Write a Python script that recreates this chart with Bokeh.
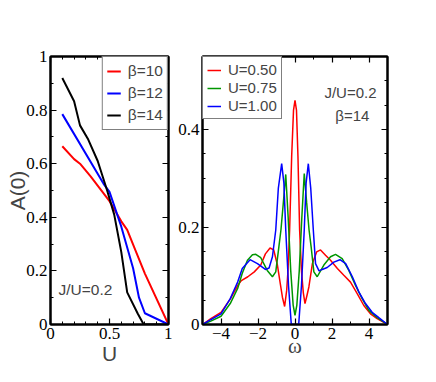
from bokeh.plotting import figure
from bokeh.layouts import row
from bokeh.models import FixedTicker, LinearAxis, Range1d, Label, CustomLabelingPolicy
from bokeh.embed import file_html
from bokeh.resources import INLINE

# ---- left panel: A(0) vs U ----
U_b10 = [0.1, 0.2, 0.25, 0.34, 0.5, 0.6, 0.65, 0.72, 0.8, 1.0]
A_b10 = [0.665, 0.617, 0.60, 0.553, 0.46, 0.385, 0.353, 0.277, 0.19, 0.0]
U_b12 = [0.1, 0.45, 0.5, 0.6, 0.7, 0.75, 0.8, 1.0]
A_b12 = [0.785, 0.525, 0.495, 0.365, 0.21, 0.10, 0.042, 0.0]
U_b14 = [0.1, 0.2, 0.25, 0.32, 0.4, 0.48, 0.54, 0.6, 0.65, 0.74, 0.79, 1.0]
A_b14 = [0.92, 0.833, 0.743, 0.69, 0.61, 0.5, 0.41, 0.27, 0.12, 0.04, 0.0, 0.0]

# ---- right panel: A(omega) ----
w_u050 = [-5.0, -4.55, -4.0, -3.5, -3.1, -2.9, -2.55, -2.2, -1.85, -1.6, -1.35, -1.15, -0.95,
          -0.8, -0.68, -0.56, -0.45, -0.38, -0.29, -0.18, -0.08, 0.0, 0.08, 0.16, 0.25, 0.35,
          0.45, 0.54, 0.65, 0.75, 0.94, 1.17, 1.38, 1.65, 1.92, 2.29, 2.64, 3.0, 3.37, 3.72,
          4.08, 4.44, 5.0]
A_u050 = [0.0, 0.012, 0.025, 0.052, 0.080, 0.090, 0.098, 0.108, 0.122, 0.145, 0.157, 0.153, 0.122,
          0.085, 0.056, 0.037, 0.070, 0.110, 0.194, 0.345, 0.44, 0.46, 0.44, 0.345, 0.194, 0.110,
          0.065, 0.043, 0.060, 0.077, 0.125, 0.149, 0.153, 0.142, 0.132, 0.115, 0.101, 0.087, 0.063,
          0.039, 0.022, 0.012, 0.0]
w_u075 = [-5.0, -4.55, -4.0, -3.5, -3.1, -2.85, -2.57, -2.3, -2.12, -1.85, -1.5, -1.22, -1.04,
          -0.87, -0.76, -0.63, -0.5, -0.37, -0.23, -0.1, 0.0, 0.1, 0.23, 0.37, 0.5, 0.63, 0.76,
          0.87, 1.02, 1.2, 1.56, 1.92, 2.19, 2.55, 2.91, 3.27, 3.63, 3.99, 4.44, 5.0]
A_u075 = [0.0, 0.007, 0.017, 0.043, 0.074, 0.105, 0.132, 0.143, 0.144, 0.137, 0.111, 0.098, 0.108,
          0.160, 0.194, 0.25, 0.308, 0.22, 0.11, 0.04, 0.019, 0.04, 0.11, 0.22, 0.31, 0.25, 0.194,
          0.160, 0.108, 0.098, 0.122, 0.139, 0.144, 0.135, 0.111, 0.080, 0.053, 0.029, 0.014, 0.0]
w_u100 = [-5.0, -4.55, -4.0, -3.5, -3.1, -2.85, -2.43, -2.03, -1.6, -1.4, -1.22, -1.04, -0.9,
          -0.72, -0.6, -0.5, -0.35, -0.2, 0.0, 0.2, 0.35, 0.5, 0.6, 0.72, 0.85, 0.99, 1.11, 1.3,
          1.47, 1.74, 2.1, 2.43, 2.74, 3.1, 3.45, 3.81, 4.17, 4.53, 5.0]
A_u100 = [0.0, 0.010, 0.022, 0.053, 0.087, 0.115, 0.133, 0.125, 0.113, 0.116, 0.139, 0.194, 0.28,
          0.33, 0.29, 0.194, 0.08, 0.0, 0.0, 0.0, 0.08, 0.194, 0.29, 0.33, 0.28, 0.194, 0.125, 0.110,
          0.113, 0.117, 0.128, 0.133, 0.125, 0.098, 0.067, 0.043, 0.025, 0.014, 0.0]

left_yticks = [0, 0.2, 0.4, 0.6, 0.8, 1]
left_ylabels = ["0", "0.2", "0.4", "0.6", "0.8", "1"]
left_xticks = [0, 0.5, 1]
left_xlabels = ["0", "0.5", "1"]
right_yticks = [0, 0.2, 0.4]
right_ylabels = ["0", "0.2", "0.4"]
right_xticks = [-4, -2, 0, 2, 4]

SERIF = "Liberation Serif"
SANS = "Liberation Sans"


def style_axis(ax, show_labels=True):
    ax.axis_line_color = "black"
    ax.axis_line_width = 2
    ax.major_tick_in = 6
    ax.major_tick_out = 0
    ax.minor_tick_in = 3
    ax.minor_tick_out = 0
    ax.major_tick_line_width = 1.2
    ax.minor_tick_line_width = 1
    ax.major_label_text_font = SERIF
    ax.major_label_text_color = "black"
    if show_labels:
        ax.major_label_text_font_size = "17px"
        ax.major_label_standoff = 3
    else:
        ax.major_label_text_font_size = "0px"
        ax.major_label_standoff = 0
        ax.major_label_policy = CustomLabelingPolicy(code="return []")


def make_fig(xr, yr, fw, bl, br):
    p = figure(frame_width=fw, frame_height=268, x_range=xr, y_range=yr, output_backend="svg",
               toolbar_location=None, min_border_left=bl, min_border_right=br,
               min_border_top=56, min_border_bottom=40)
    p.xgrid.visible = False
    p.ygrid.visible = False
    p.outline_line_color = "black"
    p.outline_line_width = 2
    p.background_fill_color = "white"
    p.border_fill_color = "white"
    return p


# ---------- left figure ----------
p1 = make_fig(Range1d(0, 1), Range1d(0, 1), 118, 50, 4)
xt1 = FixedTicker(ticks=left_xticks, minor_ticks=[0.1, 0.2, 0.3, 0.4, 0.6, 0.7, 0.8, 0.9])
yt1 = FixedTicker(ticks=left_yticks, minor_ticks=[0.1, 0.3, 0.5, 0.7, 0.9])
bx1 = p1.below[0]
ly1 = p1.left[0]
bx1.ticker = xt1
ly1.ticker = yt1
bx1.major_label_overrides = dict(zip(left_xticks, left_xlabels))
ly1.major_label_overrides = dict(zip(left_yticks, left_ylabels))
style_axis(bx1)
style_axis(ly1)
tx1 = LinearAxis(ticker=xt1)
ry1 = LinearAxis(ticker=yt1)
style_axis(tx1, False)
style_axis(ry1, False)
p1.add_layout(tx1, "above")
p1.add_layout(ry1, "right")
bx1.axis_label = "U"
ly1.axis_label = "A(0)"
for ax in (bx1, ly1):
    ax.axis_label_text_font = SANS
    ax.axis_label_text_font_size = "21px"
    ax.axis_label_text_font_style = "normal"
bx1.axis_label_standoff = 0
ly1.axis_label_standoff = -6

p1.line(U_b10, A_b10, color="#ff0000", line_width=2, legend_label="β=10")
p1.line(U_b12, A_b12, color="#0000ff", line_width=2, legend_label="β=12")
p1.line(U_b14, A_b14, color="black", line_width=2, legend_label="β=14")
lg = p1.legend[0]
lg.location = "top_right"
lg.margin = 0
lg.padding = 4
lg.spacing = 2
lg.label_height = 20
lg.glyph_height = 20
lg.glyph_width = 14
lg.label_standoff = 7
lg.label_text_font = SANS
lg.label_text_font_size = "15.5px"
lg.border_line_color = "black"
lg.border_line_width = 1
lg.background_fill_alpha = 1
p1.add_layout(Label(x=0.068, y=0.13, text="J/U=0.2", text_font=SANS, text_font_size="15.5px",
                    text_baseline="middle", text_align="left"))

# ---------- right figure ----------
p2 = make_fig(Range1d(-5, 5), Range1d(0, 0.55), 185, 30, 20)
xt2 = FixedTicker(ticks=right_xticks, minor_ticks=[-5, -3, -1, 1, 3, 5])
yt2 = FixedTicker(ticks=right_yticks, minor_ticks=[0.05, 0.1, 0.15, 0.25, 0.3, 0.35, 0.45, 0.5])
bx2 = p2.below[0]
ly2 = p2.left[0]
bx2.ticker = xt2
ly2.ticker = yt2
ly2.major_label_overrides = dict(zip(right_yticks, right_ylabels))
style_axis(bx2)
style_axis(ly2)
tx2 = LinearAxis(ticker=xt2)
ry2 = LinearAxis(ticker=yt2)
style_axis(tx2, False)
style_axis(ry2, False)
p2.add_layout(tx2, "above")
p2.add_layout(ry2, "right")
bx2.axis_label = "ω"
bx2.axis_label_text_font = SERIF
bx2.axis_label_text_font_size = "21px"
bx2.axis_label_text_font_style = "normal"
bx2.axis_label_standoff = -8

p2.line(w_u050, A_u050, color="#ff0000", line_width=1.5, legend_label="U=0.50")
p2.line(w_u075, A_u075, color="#009600", line_width=1.5, legend_label="U=0.75")
p2.line(w_u100, A_u100, color="#0000ff", line_width=1.5, legend_label="U=1.00")
lg2 = p2.legend[0]
lg2.location = "top_left"
lg2.margin = 0
lg2.padding = 4
lg2.spacing = 1
lg2.label_height = 16
lg2.glyph_height = 16
lg2.glyph_width = 14
lg2.label_standoff = 7
lg2.label_text_font = SANS
lg2.label_text_font_size = "15px"
lg2.border_line_color = "black"
lg2.border_line_width = 1
lg2.background_fill_alpha = 1
p2.add_layout(Label(x=3.0, y=0.476, text="J/U=0.2", text_font=SANS, text_font_size="15px",
                    text_baseline="middle", text_align="center"))
p2.add_layout(Label(x=3.1, y=0.429, text="β=14", text_font=SANS, text_font_size="15px",
                    text_baseline="middle", text_align="center"))

layout = row(p1, p2)
open("out.html", "w").write(file_html(layout, INLINE))
